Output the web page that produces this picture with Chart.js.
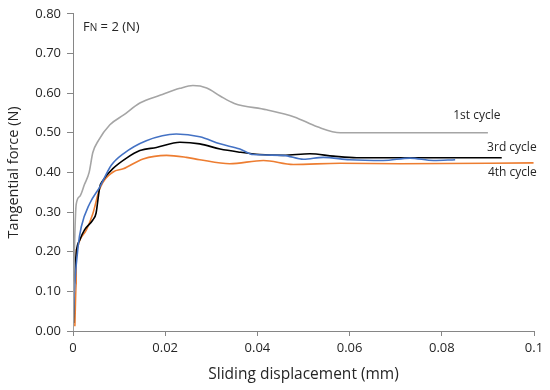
<!DOCTYPE html>
<html>
<head>
<meta charset="utf-8">
<script src="https://cdn.jsdelivr.net/npm/chart.js@4/dist/chart.umd.min.js"></script>
<style>
html,body{margin:0;padding:0;background:#fff;}
#wrap{width:550px;height:390px;position:relative;}
</style>
</head>
<body>
<div id="wrap"><canvas id="c" width="550" height="390"></canvas></div>
<script>
// ---- data ----
const cycle1X = [0, 0.0003, 0.0007, 0.0015, 0.0025, 0.0035, 0.0043, 0.0055, 0.008, 0.011, 0.0145, 0.019, 0.0232, 0.026, 0.029, 0.032, 0.035, 0.042, 0.048, 0.053, 0.058, 0.09];
const cycle1Y = [0, 0.20, 0.32, 0.34, 0.37, 0.40, 0.45, 0.48, 0.52, 0.545, 0.575, 0.595, 0.612, 0.619, 0.613, 0.592, 0.574, 0.558, 0.54, 0.515, 0.50, 0.50];

const cycle2X = [0, 0.0004, 0.0011, 0.0018, 0.0036, 0.0058, 0.0083, 0.0109, 0.0159, 0.0224, 0.0275, 0.0319, 0.0362, 0.0391, 0.0456, 0.050, 0.0543, 0.060, 0.0673, 0.0731, 0.0782, 0.0829];
const cycle2Y = [0.02, 0.12, 0.213, 0.263, 0.321, 0.363, 0.418, 0.447, 0.480, 0.497, 0.490, 0.472, 0.459, 0.445, 0.443, 0.433, 0.438, 0.432, 0.430, 0.436, 0.430, 0.432];

const cycle3X = [0.0001, 0.0003, 0.0007, 0.0015, 0.0025, 0.0043, 0.005, 0.0054, 0.0058, 0.0065, 0.0087, 0.0116, 0.0145, 0.0181, 0.0232, 0.0275, 0.0319, 0.0362, 0.0405, 0.0456, 0.0514, 0.0565, 0.0615, 0.093];
const cycle3Y = [0.02, 0.12, 0.197, 0.23, 0.255, 0.28, 0.297, 0.33, 0.363, 0.38, 0.41, 0.436, 0.455, 0.463, 0.476, 0.472, 0.459, 0.451, 0.445, 0.443, 0.447, 0.441, 0.437, 0.437];

const cycle4X = [0.0004, 0.0007, 0.0007, 0.0015, 0.0029, 0.0043, 0.0058, 0.0087, 0.0109, 0.0152, 0.0203, 0.0246, 0.0275, 0.034, 0.0413, 0.0478, 0.0579, 0.0709, 0.0999];
const cycle4Y = [0.012, 0.12, 0.204, 0.23, 0.255, 0.296, 0.359, 0.401, 0.409, 0.434, 0.443, 0.438, 0.432, 0.422, 0.430, 0.420, 0.423, 0.422, 0.424];

const xTicks = [0, 0.02, 0.04, 0.06, 0.08, 0.1];
const yTicks = [0, 0.1, 0.2, 0.3, 0.4, 0.5, 0.6, 0.7, 0.8];

const seriesLabels = ["1st cycle", "2nd cycle", "3rd cycle", "4th cycle"];
const labelPos = [[0.0876, 0.543], null, [0.0952, 0.463], [0.0953, 0.399]];

const FONT = "Open Sans";
const TXT = "#262626";

function pts(xs, ys){ return xs.map((x,i)=>({x:x, y:ys[i]})); }

const labelPlugin = {
  id: 'lbls',
  afterDatasetsDraw(chart){
    const ctx = chart.ctx, xs = chart.scales.x, ys = chart.scales.y;
    ctx.save();
    ctx.fillStyle = TXT;
    ctx.font = "12px '" + FONT + "'";
    ctx.textAlign = 'center';
    ctx.textBaseline = 'middle';
    labelPos.forEach((p,i)=>{
      if(!p) return;
      ctx.fillText(seriesLabels[i], xs.getPixelForValue(p[0]), ys.getPixelForValue(p[1]));
    });
    // F_N = 2 (N)
    const area = chart.chartArea;
    let x0 = area.left + 10, y0 = area.top + 13;
    ctx.textAlign = 'left';
    ctx.font = "13px '" + FONT + "'";
    ctx.fillText("F", x0, y0);
    let w = ctx.measureText("F").width;
    ctx.font = "10px '" + FONT + "'";
    ctx.fillText("N", x0 + w, y0 + 1);
    w += ctx.measureText("N").width;
    ctx.font = "13px '" + FONT + "'";
    ctx.fillText(" = 2 (N)", x0 + w, y0);
    ctx.restore();
  }
};

const colors = ["#a5a5a5", "#4472c4", "#000000", "#ed7d31"];
const xsArr = [cycle1X, cycle2X, cycle3X, cycle4X];
const ysArr = [cycle1Y, cycle2Y, cycle3Y, cycle4Y];

new Chart(document.getElementById('c'), {
  type: 'scatter',
  data: {
    datasets: seriesLabels.map((l,i)=>({
      label: l,
      data: pts(xsArr[i], ysArr[i]),
      showLine: true,
      borderColor: colors[i],
      backgroundColor: colors[i],
      borderWidth: 1.6,
      pointRadius: 0,
      tension: 0.4,
      cubicInterpolationMode: 'monotone'
    }))
  },
  options: {
    responsive: false,
    animation: false,
    layout: { padding: { top: 12, right: 16, left: 0, bottom: 0 } },
    plugins: { legend: { display: false }, tooltip: { enabled: false } },
    scales: {
      x: {
        type: 'linear', min: 0, max: 0.1,
        afterBuildTicks(s){ s.ticks = xTicks.map(v=>({value:v})); },
        afterFit(s){ s.height = 59; },
        border: { color: '#868686', width: 1 },
        grid: { drawOnChartArea: false, tickLength: 5, color: '#868686' },
        ticks: { color: TXT, font: { family: FONT, size: 13 }, padding: 4, maxRotation: 0,
          callback: v => String(parseFloat(v.toFixed(2))) },
        title: { display: true, text: 'Sliding displacement (mm)', color: TXT,
          font: { family: FONT, size: 15.5 }, padding: { top: 2, bottom: 6 } }
      },
      y: {
        type: 'linear', min: 0, max: 0.8,
        afterBuildTicks(s){ s.ticks = yTicks.map(v=>({value:v})); },
        afterFit(s){ s.width = 73; },
        border: { color: '#868686', width: 1 },
        grid: { drawOnChartArea: false, tickLength: 6, color: '#868686' },
        ticks: { color: TXT, font: { family: FONT, size: 13 }, padding: 6,
          callback: v => v.toFixed(2) },
        title: { display: true, text: 'Tangential force (N)', color: TXT,
          font: { family: FONT, size: 14.5 }, padding: { top: 5, bottom: 2 } }
      }
    }
  },
  plugins: [labelPlugin]
});
</script>
</body>
</html>
